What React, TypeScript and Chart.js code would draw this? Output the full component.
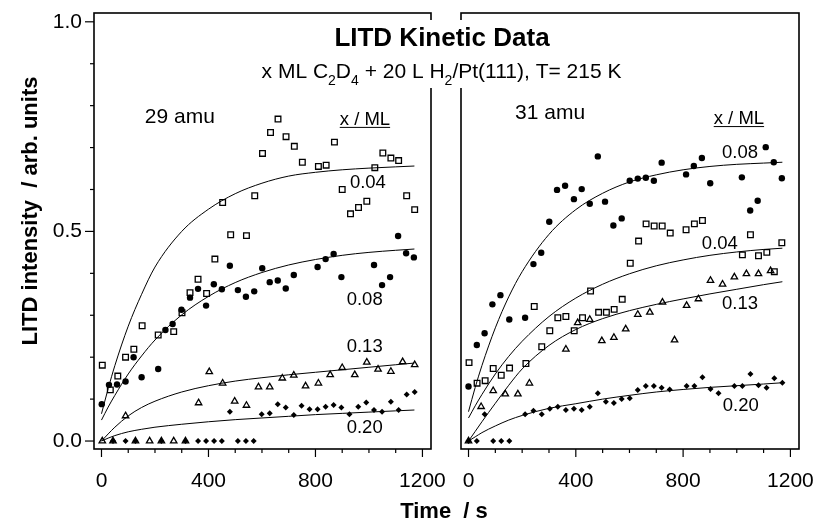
import React, { useEffect, useRef } from 'react';
import { Chart, registerables } from 'chart.js';

Chart.register(...registerables);

type Pt = [number, number];

// ---------- 29 amu panel (left) : [time / s, intensity] ----------
const L_SQUARES_004: Pt[] = [
  [3, 0.181], [33, 0.122], [61, 0.155], [90, 0.2], [121, 0.219], [152, 0.275], [212, 0.253], [270, 0.261],
  [301, 0.306], [331, 0.354], [361, 0.386], [393, 0.352], [424, 0.434], [453, 0.569], [483, 0.492], [542, 0.49],
  [573, 0.585], [602, 0.686], [632, 0.736], [660, 0.768], [690, 0.726], [721, 0.703], [751, 0.665], [811, 0.655],
  [840, 0.658], [871, 0.713], [900, 0.6], [931, 0.542], [961, 0.557], [992, 0.572], [1022, 0.652], [1052, 0.687],
  [1082, 0.675], [1111, 0.669], [1141, 0.585], [1171, 0.552],
];
const L_CIRCLES_008: Pt[] = [
  [1, 0.088], [28, 0.134], [58, 0.135], [90, 0.142], [120, 0.2], [150, 0.152], [212, 0.172], [239, 0.265],
  [266, 0.279], [299, 0.313], [331, 0.342], [361, 0.363], [391, 0.323], [420, 0.374], [450, 0.362], [480, 0.418],
  [510, 0.36], [540, 0.344], [571, 0.357], [601, 0.412], [629, 0.379], [659, 0.383], [689, 0.364], [719, 0.396],
  [808, 0.415], [838, 0.434], [868, 0.446], [897, 0.391], [1019, 0.42], [1049, 0.372], [1079, 0.391], [1109, 0.489],
  [1139, 0.448], [1168, 0.438],
];
const L_TRIANGLES_013: Pt[] = [
  [3, 0], [43, 0], [90, 0.06], [127, 0], [180, 0], [224, 0], [270, 0], [314, 0], [363, 0.091], [403, 0.165],
  [453, 0.138], [498, 0.095], [542, 0.085], [587, 0.129], [629, 0.129], [676, 0.15], [719, 0.157], [763, 0.131],
  [811, 0.138], [855, 0.158], [900, 0.175], [947, 0.158], [992, 0.188], [1034, 0.171], [1082, 0.166], [1126, 0.189],
  [1171, 0.182],
];
const L_DIAMONDS_020: Pt[] = [
  [43, 0], [90, 0], [127, 0], [224, 0], [314, 0], [361, 0], [391, 0], [421, 0], [450, 0], [510, 0], [540, 0], [569, 0],
  [480, 0.07], [599, 0.064], [629, 0.066], [659, 0.088], [689, 0.08], [719, 0.062], [748, 0.084], [778, 0.076],
  [808, 0.076], [838, 0.082], [868, 0.086], [897, 0.08], [927, 0.064], [960, 0.082], [990, 0.092], [1019, 0.074],
  [1049, 0.07], [1082, 0.094], [1111, 0.074], [1141, 0.111], [1171, 0.117],
];

// ---------- 31 amu panel (right) ----------
const R_CIRCLES_008: Pt[] = [
  [0, 0.13], [31, 0.229], [60, 0.257], [89, 0.326], [119, 0.348], [152, 0.29], [211, 0.294], [242, 0.422],
  [271, 0.449], [301, 0.523], [330, 0.599], [360, 0.609], [393, 0.577], [422, 0.601], [452, 0.566], [482, 0.679],
  [509, 0.571], [540, 0.514], [571, 0.531], [601, 0.621], [631, 0.626], [661, 0.628], [691, 0.621], [720, 0.664],
  [811, 0.636], [840, 0.656], [870, 0.675], [901, 0.615], [1019, 0.629], [1050, 0.55], [1078, 0.573], [1108, 0.701],
  [1138, 0.665], [1168, 0.627],
];
const R_SQUARES_004: Pt[] = [
  [2, 0.187], [32, 0.138], [62, 0.144], [92, 0.173], [122, 0.157], [153, 0.174], [214, 0.185], [245, 0.321],
  [273, 0.225], [303, 0.263], [333, 0.294], [363, 0.297], [394, 0.263], [425, 0.294], [455, 0.358], [485, 0.307],
  [514, 0.307], [543, 0.314], [573, 0.338], [603, 0.424], [634, 0.477], [662, 0.518], [692, 0.513], [722, 0.513],
  [752, 0.496], [811, 0.504], [842, 0.518], [872, 0.526], [1021, 0.444], [1051, 0.492], [1081, 0.442], [1112, 0.45],
  [1140, 0.404], [1168, 0.473],
];
const R_TRIANGLES_013: Pt[] = [
  [0, 0], [47, 0.082], [92, 0.12], [137, 0.112], [184, 0.112], [227, 0.138], [363, 0.219], [407, 0.282],
  [452, 0.29], [497, 0.239], [542, 0.247], [586, 0.267], [631, 0.302], [676, 0.307], [723, 0.331], [768, 0.241],
  [813, 0.323], [857, 0.339], [902, 0.383], [947, 0.374], [991, 0.391], [1036, 0.399], [1081, 0.399], [1126, 0.406],
];
const R_DIAMONDS_020: Pt[] = [
  [0, 0], [31, 0], [60, 0.064], [92, 0], [122, 0], [152, 0], [211, 0.064], [242, 0.072], [273, 0.064], [303, 0.077],
  [333, 0.082], [363, 0.074], [393, 0.077], [422, 0.074], [452, 0.082], [482, 0.114], [512, 0.094], [542, 0.091],
  [571, 0.1], [601, 0.102], [631, 0.122], [661, 0.131], [691, 0.131], [720, 0.127], [750, 0.123], [813, 0.131],
  [842, 0.131], [872, 0.152], [902, 0.124], [932, 0.114], [991, 0.131], [1021, 0.131], [1051, 0.16], [1081, 0.133],
  [1111, 0.127], [1140, 0.15], [1170, 0.139],
];

// ---------- fitted curves ----------
const FIT_TIMES = [0, 25, 50, 100, 150, 200, 300, 400, 500, 600, 700, 800, 900, 1000, 1100, 1170];
const L_FIT_004 = [0.065, 0.125, 0.18, 0.274, 0.35, 0.415, 0.5, 0.553, 0.59, 0.615, 0.632, 0.641, 0.647, 0.651, 0.654, 0.656];
const L_FIT_008 = [0.05, 0.081, 0.109, 0.16, 0.203, 0.241, 0.301, 0.345, 0.378, 0.402, 0.42, 0.433, 0.443, 0.45, 0.455, 0.458];
const L_FIT_013 = [0, 0.017, 0.033, 0.06, 0.08, 0.095, 0.117, 0.132, 0.143, 0.151, 0.158, 0.164, 0.17, 0.176, 0.182, 0.186];
const L_FIT_020 = [0, 0.007, 0.013, 0.022, 0.028, 0.033, 0.04, 0.046, 0.051, 0.055, 0.059, 0.063, 0.066, 0.069, 0.072, 0.074];
const R_FIT_008 = [0.07, 0.128, 0.18, 0.27, 0.344, 0.404, 0.493, 0.552, 0.591, 0.618, 0.635, 0.647, 0.655, 0.66, 0.663, 0.665];
const R_FIT_004 = [0.055, 0.084, 0.111, 0.16, 0.202, 0.238, 0.297, 0.341, 0.374, 0.399, 0.418, 0.432, 0.443, 0.451, 0.457, 0.46];
const R_FIT_013 = [0, 0.023, 0.046, 0.09, 0.133, 0.172, 0.228, 0.266, 0.292, 0.311, 0.326, 0.339, 0.351, 0.362, 0.373, 0.38];
const R_FIT_020 = [0, 0.01, 0.02, 0.036, 0.05, 0.061, 0.078, 0.089, 0.1, 0.109, 0.117, 0.123, 0.128, 0.132, 0.136, 0.139];

// ---------- text annotations (anchored in data units) ----------
const L_LABELS = ['29 amu', 'x / ML', '0.04', '0.08', '0.13', '0.20'];
const L_LABEL_AT: Pt[] = [[293, 0.773], [985, 0.766], [996, 0.615], [984, 0.337], [984, 0.225], [984, 0.032]];
const R_LABELS = ['31 amu', 'x / ML', '0.08', '0.04', '0.13', '0.20'];
const R_LABEL_AT: Pt[] = [[304, 0.781], [1008, 0.768], [1012, 0.687], [937, 0.47], [1012, 0.326], [1015, 0.084]];

const TITLE = 'LITD Kinetic Data';
const SUBTITLE_PARTS: [string, boolean][] = [
  ['x ML C', false], ['2', true], ['D', false], ['4', true], [' + 20 L H', false], ['2', true], ['/Pt(111), T= 215 K', false],
];
const X_TITLE = 'Time  / s';
const Y_TITLE = 'LITD intensity  / arb. units';

const FONT = '"Liberation Sans", Arial, Helvetica, sans-serif';
const X_MIN = -28, X_MAX = 1232, Y_MIN = -0.019, Y_MAX = 1.021;

function lineDs(values: number[]) {
  return {
    type: 'line' as const,
    data: FIT_TIMES.map((t, i) => ({ x: t, y: values[i] })),
    borderColor: '#000',
    borderWidth: 1,
    pointRadius: 0,
    fill: false,
    cubicInterpolationMode: 'monotone' as const,
    showLine: true,
  };
}

function pointDs(pts: Pt[], style: string) {
  const base: any = {
    type: 'scatter' as const,
    data: pts.map(([x, y]) => ({ x, y })),
    showLine: false,
    pointStyle: style,
    borderColor: '#000',
  };
  if (style === 'circle') {
    Object.assign(base, { pointRadius: 3.2, pointHoverRadius: 3.2, backgroundColor: '#000', pointBorderWidth: 0, borderWidth: 0 });
  } else if (style === 'rect') {
    Object.assign(base, { pointRadius: 4, pointHoverRadius: 4, backgroundColor: 'rgba(0,0,0,0)', borderWidth: 1.3, pointBorderWidth: 1.3 });
  } else if (style === 'triangle') {
    Object.assign(base, { pointRadius: 3.7, pointHoverRadius: 3.7, backgroundColor: 'rgba(0,0,0,0)', borderWidth: 1.3, pointBorderWidth: 1.3 });
  } else {
    Object.assign(base, { pointRadius: 3, pointHoverRadius: 3, backgroundColor: '#000', borderWidth: 0, pointBorderWidth: 0 });
  }
  return base;
}

function makeDecor(side: 'L' | 'R') {
  return {
    id: 'decor' + side,
    afterDraw(chart: any) {
      const { ctx, chartArea: a } = chart;
      const xs = chart.scales.x;
      const ys = chart.scales.y;
      ctx.save();
      // frame
      ctx.strokeStyle = '#000';
      ctx.lineWidth = 1.6;
      ctx.strokeRect(a.left, a.top, a.right - a.left, a.bottom - a.top);
      // x ticks
      ctx.lineWidth = 1.2;
      for (const t of xs.ticks) {
        const px = xs.getPixelForValue(t.value);
        const major = Math.round(t.value) % 400 === 0;
        ctx.beginPath();
        ctx.moveTo(px, a.bottom);
        ctx.lineTo(px, a.bottom + (major ? 8 : 4));
        ctx.stroke();
      }
      if (side === 'L') {
        for (const t of ys.ticks) {
          const py = ys.getPixelForValue(t.value);
          const major = Math.round(t.value * 10) % 5 === 0;
          ctx.beginPath();
          ctx.moveTo(a.left, py);
          ctx.lineTo(a.left - (major ? 9 : 4), py);
          ctx.stroke();
        }
      }
      // in-panel labels
      const labels = side === 'L' ? L_LABELS : R_LABELS;
      const at = side === 'L' ? L_LABEL_AT : R_LABEL_AT;
      ctx.fillStyle = '#000';
      ctx.textAlign = 'center';
      ctx.textBaseline = 'middle';
      labels.forEach((txt, i) => {
        const px = xs.getPixelForValue(at[i][0]);
        const py = ys.getPixelForValue(at[i][1]);
        const size = i === 0 ? 21 : 18.5;
        ctx.font = `${size}px ${FONT}`;
        ctx.fillText(txt, px, py);
        if (i === 1) {
          const w = ctx.measureText(txt).width;
          ctx.lineWidth = 1;
          ctx.beginPath();
          ctx.moveTo(px - w / 2, py + 7.5);
          ctx.lineTo(px + w / 2, py + 7.5);
          ctx.stroke();
        }
      });
      if (side === 'L') {
        ctx.save();
        ctx.translate(31, 211);
        ctx.rotate(-Math.PI / 2);
        ctx.font = `bold 22px ${FONT}`;
        ctx.textAlign = 'center';
        ctx.textBaseline = 'middle';
        ctx.fillText(Y_TITLE, 0, 0);
        ctx.restore();
      } else {
        // title block (breaks the inner panel borders)
        ctx.fillStyle = '#fff';
        ctx.fillRect(236, 20, 412, 68);
        ctx.fillStyle = '#000';
        ctx.textAlign = 'center';
        ctx.textBaseline = 'alphabetic';
        ctx.font = `bold 26px ${FONT}`;
        ctx.fillText(TITLE, 442, 46);
        const mainSize = 21, subSize = 14;
        const widths = SUBTITLE_PARTS.map(([t, sub]) => {
          ctx.font = `${sub ? subSize : mainSize}px ${FONT}`;
          return ctx.measureText(t).width;
        });
        const total = widths.reduce((s, w) => s + w, 0);
        let x = 441.5 - total / 2;
        ctx.textAlign = 'left';
        SUBTITLE_PARTS.forEach(([t, sub], i) => {
          ctx.font = `${sub ? subSize : mainSize}px ${FONT}`;
          ctx.fillText(t, x, sub ? 85 : 78);
          x += widths[i];
        });
        ctx.textAlign = 'center';
        ctx.textBaseline = 'middle';
        ctx.font = `bold 22px ${FONT}`;
        ctx.fillText(X_TITLE, 444, 512);
      }
      ctx.restore();
    },
  };
}

function buildConfig(side: 'L' | 'R'): any {
  const isL = side === 'L';
  const datasets = isL
    ? [
        lineDs(L_FIT_004), lineDs(L_FIT_008), lineDs(L_FIT_013), lineDs(L_FIT_020),
        pointDs(L_SQUARES_004, 'rect'), pointDs(L_CIRCLES_008, 'circle'),
        pointDs(L_TRIANGLES_013, 'triangle'), pointDs(L_DIAMONDS_020, 'rectRot'),
      ]
    : [
        lineDs(R_FIT_008), lineDs(R_FIT_004), lineDs(R_FIT_013), lineDs(R_FIT_020),
        pointDs(R_CIRCLES_008, 'circle'), pointDs(R_SQUARES_004, 'rect'),
        pointDs(R_TRIANGLES_013, 'triangle'), pointDs(R_DIAMONDS_020, 'rectRot'),
      ];
  const yScale: any = {
    type: 'linear',
    display: isL,
    min: Y_MIN,
    max: Y_MAX,
    grid: { display: false, drawTicks: false },
    border: { display: false },
    ticks: {
      stepSize: 0.1,
      includeBounds: false,
      autoSkip: false,
      padding: 12,
      color: '#000',
      font: { family: FONT, size: 21 },
      callback: (v: number) => {
        const k = Math.round(v * 10);
        return k % 5 === 0 ? (k / 10).toFixed(1) : '';
      },
    },
  };
  if (isL) {
    yScale.afterFit = (s: any) => {
      s.width = 94;
      s.paddingTop = 0;
      s.paddingBottom = 0;
    };
  }
  return {
    type: 'scatter',
    data: { datasets },
    options: {
      responsive: false,
      animation: false,
      devicePixelRatio: 1,
      events: [],
      layout: {
        padding: isL ? { left: 0, right: 388, top: 13, bottom: 0 } : { left: 461, right: 20, top: 13, bottom: 0 },
      },
      plugins: { legend: { display: false }, tooltip: { enabled: false } },
      scales: {
        x: {
          type: 'linear',
          min: X_MIN,
          max: X_MAX,
          afterFit: (s: any) => {
            s.height = 75;
            s.paddingLeft = 0;
            s.paddingRight = 0;
          },
          grid: { display: false, drawTicks: false },
          border: { display: false },
          ticks: {
            stepSize: 100,
            includeBounds: false,
            autoSkip: false,
            maxRotation: 0,
            minRotation: 0,
            padding: 20,
            color: '#000',
            font: { family: FONT, size: 21 },
            callback: (v: number) => (Math.round(v) % 400 === 0 ? String(Math.round(v)) : ''),
          },
        },
        y: yScale,
      },
    },
    plugins: [makeDecor(side)],
  };
}

export default function App() {
  const leftRef = useRef<HTMLCanvasElement>(null);
  const rightRef = useRef<HTMLCanvasElement>(null);
  useEffect(() => {
    const a = new Chart(leftRef.current as HTMLCanvasElement, buildConfig('L'));
    const b = new Chart(rightRef.current as HTMLCanvasElement, buildConfig('R'));
    return () => {
      a.destroy();
      b.destroy();
    };
  }, []);
  return (
    <div style={{ position: 'fixed', left: 0, top: 0, width: 819, height: 524, background: '#fff' }}>
      <canvas ref={leftRef} width={819} height={524} style={{ position: 'absolute', left: 0, top: 0 }} />
      <canvas ref={rightRef} width={819} height={524} style={{ position: 'absolute', left: 0, top: 0 }} />
    </div>
  );
}
